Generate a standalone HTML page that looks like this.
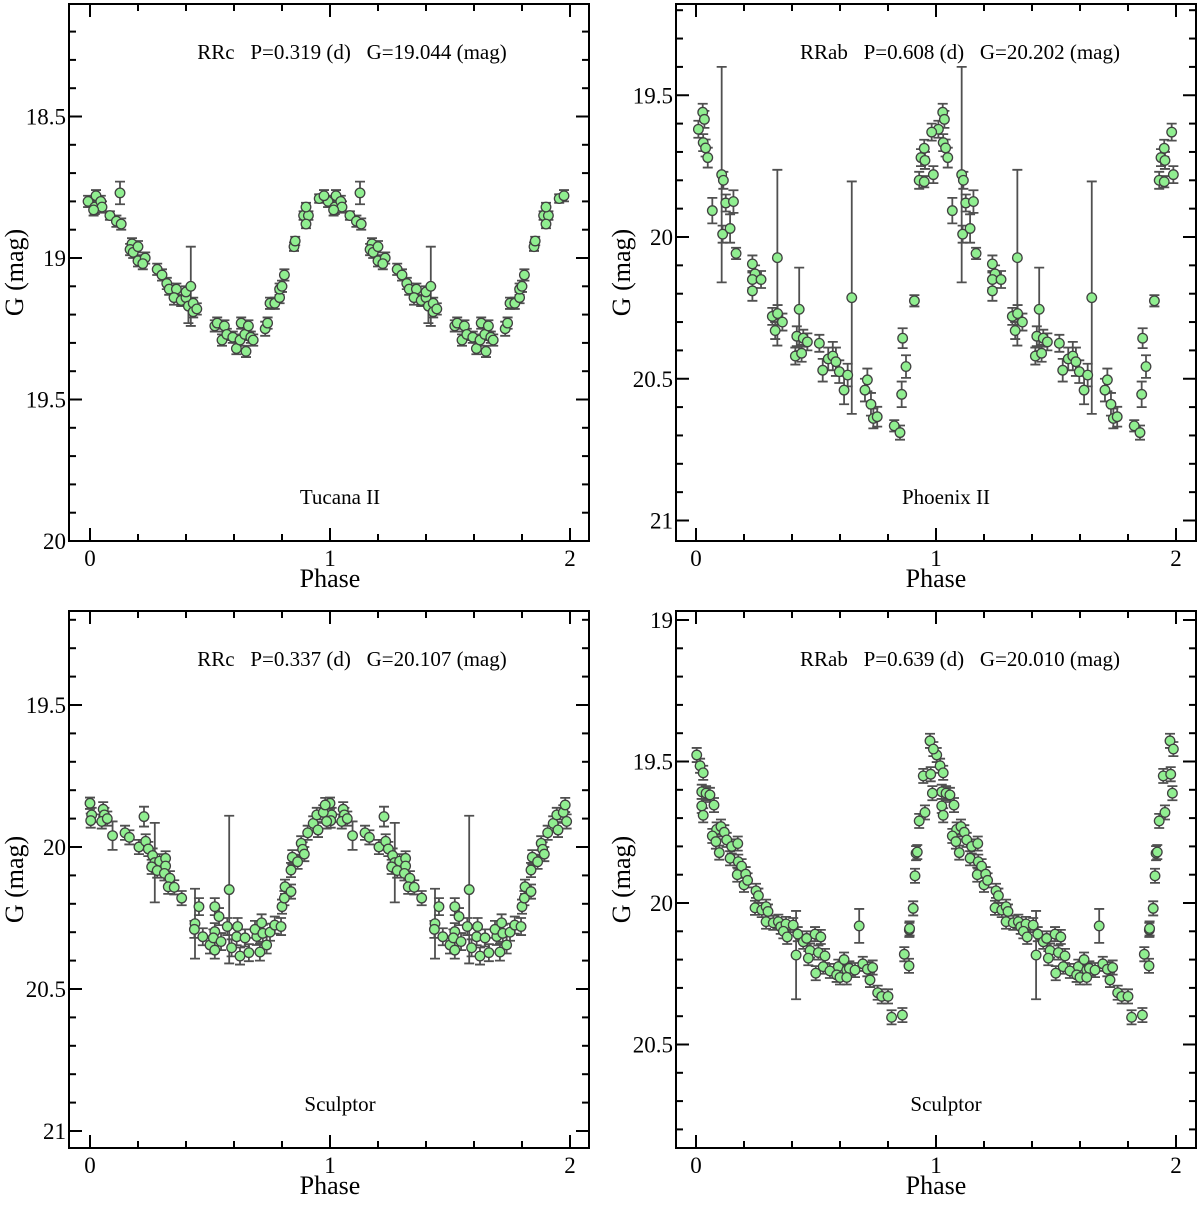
<!DOCTYPE html>
<html><head><meta charset="utf-8">
<style>
html,body{margin:0;padding:0;background:#fff;}
svg{display:block;font-family:"Liberation Serif",serif;}
.pre{white-space:pre;}
</style></head>
<body>
<svg id="fig" width="1200" height="1206" viewBox="0 0 1200 1206" xmlns="http://www.w3.org/2000/svg"></svg>
<script>
// ---- Panel 1: Tucana II RRc ----
const p1Phase=[-0.008,0.02,0.025,0.045,0.05,0.015,0.083,0.11,0.125,0.13,0.175,0.167,0.18,0.2,0.2,0.23,0.22,0.28,0.3,0.32,0.33,0.36,0.35,0.38,0.4,0.4,0.42,0.41,0.43,0.43,0.445,0.52,0.53,0.56,0.55,0.57,0.595,0.61,0.625,0.63,0.645,0.65,0.66,0.67,0.68,0.73,0.74,0.75,0.77,0.79,0.79,0.8,0.81,0.85,0.855,0.89,0.91,0.9,0.9,0.955,0.975];
const p1Mag=[18.80,18.82,18.78,18.80,18.82,18.83,18.85,18.87,18.77,18.88,18.95,18.97,18.98,18.96,19.01,19.00,19.02,19.04,19.06,19.09,19.11,19.11,19.14,19.15,19.14,19.12,19.10,19.17,19.16,19.19,19.18,19.24,19.23,19.24,19.29,19.27,19.28,19.32,19.29,19.23,19.27,19.33,19.24,19.28,19.29,19.25,19.23,19.16,19.16,19.14,19.11,19.10,19.06,18.96,18.94,18.85,18.85,18.82,18.88,18.79,18.78];
const p1Err=[.02,.025,.02,.02,.02,.02,.015,.02,.04,.02, .02,.02,.02,.02,.02,.02,.02,.02,.02,.02, .02,.02,.025,.02,.02,.02,.14,.06,.02,.02, .02,.02,.02,.02,.02,.02,.02,.02,.02,.02, .02,.02,.02,.02,.02,.025,.02,.02,.02,.02, .02,.02,.02,.015,.015,.015,.015,.015,.015,.015,.02];
const p1YTicks=["18.5","19","19.5","20"];
// ---- Panel 2: Phoenix II RRab ----
const p2Phase=[.01,.028,.035,.03,.04,.049,.068,.107,.114,.111,.124,.156,.142,.167,.235,.246,.235,.271,.235,.339,.318,.34,.36,.33,.43,.42,.447,.464,.414,.44,.514,.528,.551,.57,.583,.597,.617,.632,.649,.714,.704,.729,.739,.755,.826,.85,.857,.875,.861,.91,.93,.951,.9375,.954,.951,.989,.982];
const p2Mag=[19.62,19.56,19.585,19.667,19.686,19.72,19.907,19.78,19.80,19.99, 19.88,19.875,19.97,20.058,20.095,20.13,20.15,20.15,20.19,20.073, 20.28,20.27,20.30,20.33,20.255,20.35,20.357,20.37,20.42,20.41, 20.375,20.47,20.43,20.42,20.44,20.475,20.54,20.487,20.214,20.504, 20.54,20.59,20.64,20.634,20.666,20.69,20.555,20.457,20.357,20.225, 19.80,19.805,19.72,19.73,19.687,19.78,19.63];
const p2Err=[.03,.03,.03,.03,.03,.035,.045,.38,.03,.03, .03,.04,.05,.02,.03,.03,.03,.03,.035,.31, .03,.03,.03,.03,.147,.035,.03,.03,.03,.03, .03,.04,.04,.05,.05,.04,.05,.04,.41,.04, .04,.04,.035,.035,.02,.025,.045,.04,.035,.02, .03,.02,.03,.03,.03,.03,.03];
const p2YTicks=["19.5","20","20.5","21"];
// ---- Panel 3: Sculptor RRc ----
const p3Phase=[0,.007,.003,.055,.06,.049,.072,.094,.146,.164, .225,.204,.232,.243,.261,.27,.257,.28,.29,.315, .315,.31,.333,.326,.351,.382,.454,.4375,.435,.47, .5,.52,.5375,.52,.514,.52,.546,.572,.58,.59, .611,.615,.625,.646,.662,.695,.6875,.715,.72,.708, .736,.75,.77,.796,.8,.81,.8125,.8375,.8375,.843, .865,.88,.886,.893,.907,.93,.95,.945,.972,.98, .986];
const p3Mag=[19.846,19.887,19.907,19.867,19.887,19.91,19.9,19.96,19.95,19.966, 19.893,20.0,19.98,20.007,20.03,20.055,20.07,20.083,20.05,20.04, 20.067,20.093,20.11,20.14,20.142,20.18,20.21,20.27,20.29,20.316, 20.345,20.21,20.245,20.298,20.32,20.363,20.333,20.28,20.15,20.355, 20.316,20.28,20.384,20.32,20.372,20.315,20.29,20.267,20.304,20.37, 20.345,20.30,20.275,20.28,20.21,20.18,20.14,20.157,20.081,20.036, 20.052,19.987,20.008,20.025,19.95,19.917,19.94,19.887,19.878,19.852, 19.91];
const p3Err=[.02,.025,.025,.025,.025,.025,.025,.05,.025,.025, .035,.025,.025,.025,.025,.14,.025,.025,.025,.025, .025,.025,.025,.025,.025,.025,.03,.123,.03,.03, .03,.03,.03,.03,.03,.03,.03,.03,.26,.03, .03,.03,.03,.03,.03,.03,.03,.03,.03,.03, .03,.03,.03,.03,.025,.025,.025,.025,.025,.025, .025,.025,.025,.025,.025,.025,.025,.025,.025,.025, .025];
const p3YTicks=["19.5","20","20.5","21"];
// ---- Panel 4: Sculptor RRab ----
const p4Phase=[.003,.017,.03,.024,.042,.058,.024,.075,.03,.086, .104,.068,.118,.083,.128,.149,.174,.097,.142,.176, .19,.172,.207,.2,.215,.25,.26,.246,.274,.292, .30,.292,.322,.343,.353,.375,.364,.38,.405,.417, .424,.447,.461,.475,.468,.496,.52,.51,.5375,.499, .53,.558,.593,.586,.6,.617,.628,.639,.628,.68, .6625,.695,.714,.736,.725,.757,.774,.80,.815,.86, .8875,.868,.889,.89,.905,.9125,.917,.922,.93,.954, .947,.978,.985,.975,.989];
const p4Mag=[19.477,19.515,19.54,19.607,19.612,19.618,19.657,19.654,19.69,19.74, 19.73,19.763,19.75,19.783,19.777,19.8,19.79,19.822,19.842,19.854, 19.87,19.9,19.898,19.936,19.92,19.957,19.974,20.017,20.025,20.013, 20.03,20.066,20.07,20.066,20.084,20.074,20.1,20.12,20.078,20.184, 20.11,20.137,20.125,20.168,20.195,20.11,20.12,20.175,20.187,20.248, 20.225,20.24,20.225,20.254,20.263,20.2,20.237,20.231,20.263,20.081, 20.237,20.215,20.234,20.228,20.272,20.317,20.33,20.33,20.404,20.396, 20.222,20.181,20.095,20.09,20.019,19.904,19.824,19.82,19.71,19.68, 19.551,19.545,19.612,19.427,19.456];
const p4Err=[.025,.025,.025,.025,.025,.025,.025,.025,.025,.025, .025,.025,.025,.025,.025,.025,.025,.025,.025,.025, .025,.025,.025,.025,.025,.025,.025,.025,.025,.025, .025,.025,.025,.025,.025,.025,.025,.025,.025,.156, .025,.025,.025,.025,.025,.025,.025,.025,.025,.025, .025,.025,.025,.025,.025,.025,.025,.025,.025,.06, .025,.025,.025,.025,.025,.025,.025,.025,.025,.025, .025,.025,.025,.025,.025,.025,.025,.025,.025,.025, .025,.025,.025,.025,.025];
const p4YTicks=["19","19.5","20","20.5"];
const xTickLabels=["0","1","2"];

const NS="http://www.w3.org/2000/svg";
const svg=document.getElementById('fig');
function mk(tag,attrs,parent,text){const e=document.createElementNS(NS,tag);for(const k in attrs)e.setAttribute(k,attrs[k]);if(text!==undefined)e.textContent=text;(parent||svg).appendChild(e);return e;}

const panels=[
 {id:'tucana',L:69,R:589,T:4,B:541,x0:90,y0:258,m0:19,ppm:283,ph:p1Phase,mag:p1Mag,err:p1Err,yt:p1YTicks,title:"RRc   P=0.319 (d)   G=19.044 (mag)",field:"Tucana II",tx:352,fx:340},
 {id:'phoenix',L:676,R:1196,T:4,B:541,x0:696,y0:237,m0:20,ppm:283.5,ph:p2Phase,mag:p2Mag,err:p2Err,yt:p2YTicks,title:"RRab   P=0.608 (d)   G=20.202 (mag)",field:"Phoenix II",tx:960,fx:946},
 {id:'sculptor-rrc',L:69,R:589,T:611,B:1148,x0:90,y0:847,m0:20,ppm:284,ph:p3Phase,mag:p3Mag,err:p3Err,yt:p3YTicks,title:"RRc   P=0.337 (d)   G=20.107 (mag)",field:"Sculptor",tx:352,fx:340},
 {id:'sculptor-rrab',L:676,R:1196,T:611,B:1148,x0:696,y0:903,m0:20,ppm:283,ph:p4Phase,mag:p4Mag,err:p4Err,yt:p4YTicks,title:"RRab   P=0.639 (d)   G=20.010 (mag)",field:"Sculptor",tx:960,fx:946}
];

panels.forEach((p,pi)=>{
  const xs=ph=>p.x0+ph*240;
  const ys=m=>p.y0+(m-p.m0)*p.ppm;
  const mTop=p.m0+(p.T-p.y0)/p.ppm, mBot=p.m0+(p.B-p.y0)/p.ppm;
  const g=mk('g',{});
  
  
  const cid='clip'+pi;
  const cp=mk('clipPath',{id:cid},g);mk('rect',{x:p.L,y:p.T,width:p.R-p.L,height:p.B-p.T},cp);
  const tg=mk('g',{stroke:'#000','stroke-width':2},g);
  
  
  for(let k=0;k<=10;k++){const v=k*0.2;const x=xs(v);const len=(k%5===0)?13:7;
    mk('line',{x1:x,x2:x,y1:p.B,y2:p.B-len},tg);mk('line',{x1:x,x2:x,y1:p.T,y2:p.T+len},tg);}
  const start=Math.ceil(mTop*10-1e-6), end=Math.floor(mBot*10+1e-6);
  for(let k=start;k<=end;k++){const y=ys(k/10);const len=(k%5===0)?13:7;
    mk('line',{x1:p.L,x2:p.L+len,y1:y,y2:y},tg);mk('line',{x1:p.R,x2:p.R-len,y1:y,y2:y},tg);}
  p.yt.forEach(s=>{const t=mk('text',{x:p.L-3,y:ys(parseFloat(s))+8,'text-anchor':'end','font-size':23},g,s);
    
    });
  xTickLabels.forEach(s=>{const t=mk('text',{x:xs(parseFloat(s)),y:p.B+25,'text-anchor':'middle','font-size':23},g,s);
    
    });
  const dg=mk('g',{'clip-path':'url(#'+cid+')'},g);
  
  
  const eg=mk('g',{stroke:'#505050','stroke-width':1.8,fill:'none'},dg);
  const mg=mk('g',{fill:'#90ee90',stroke:'#404040','stroke-width':1.3},dg);
  for(let i=0;i<p.ph.length;i++){
    [0,1].forEach(sh=>{
      const ph=p.ph[i]+sh; if(ph>2.1||ph<-0.1)return;
      const x=xs(ph),y=ys(p.mag[i]),e=p.err[i]*p.ppm;
      const el=mk('path',{d:`M${x},${y-e}V${y+e}M${x-5},${y-e}H${x+5}M${x-5},${y+e}H${x+5}`},eg);
      
      
      const c=mk('circle',{cx:x,cy:y,r:4.8},mg);
      
      
    });
  }
  const fr=mk('rect',{x:p.L,y:p.T,width:p.R-p.L,height:p.B-p.T,fill:'none',stroke:'#000','stroke-width':2},g);
  
  
  const tt=mk('text',{x:p.tx,y:p.T+55,'text-anchor':'middle','font-size':21,'class':'pre',style:'white-space:pre'},g,p.title);
  
  
  const ft=mk('text',{x:p.fx,y:p.T+500,'text-anchor':'middle','font-size':21},g,p.field);
  
  
  const xl=mk('text',{x:xs(1),y:p.B+46,'text-anchor':'middle','font-size':26},g,'Phase');
  
  
  const cy=(p.T+p.B)/2, cx=p.L-46;
  const yl=mk('text',{x:cx,y:cy,'text-anchor':'middle','font-size':26,transform:`rotate(-90 ${cx} ${cy})`},g,'G (mag)');
  
  
});
</script>
</body></html>
